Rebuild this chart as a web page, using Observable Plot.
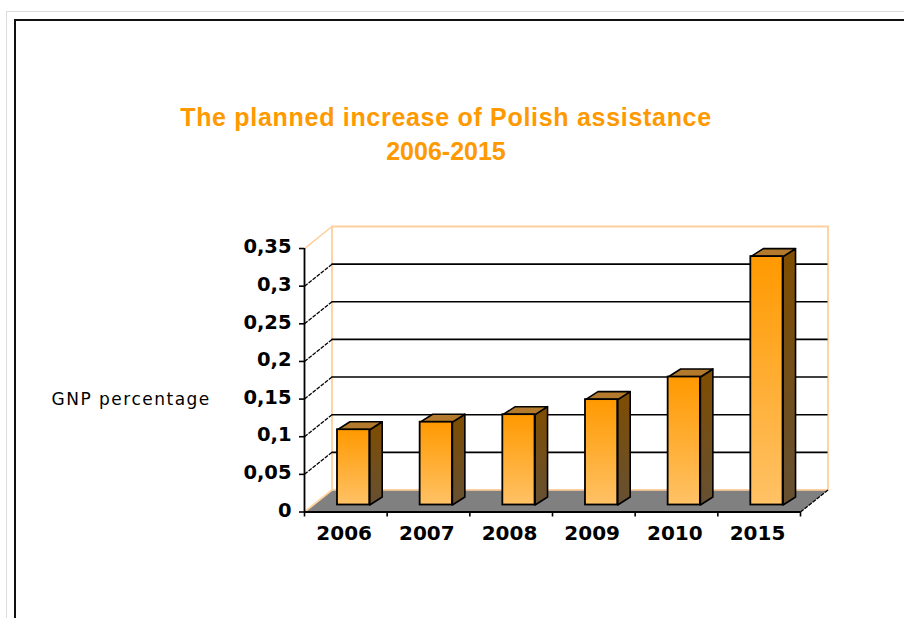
<!DOCTYPE html>
<html>
<head>
<meta charset="utf-8">
<script src="https://cdn.jsdelivr.net/npm/d3@7"></script>
<script src="https://cdn.jsdelivr.net/npm/@observablehq/plot@0.6"></script>
<style>
html,body{margin:0;padding:0;background:#fff;overflow:hidden;width:904px;height:618px}
#outer{position:absolute;left:6px;top:11px;right:-10px;bottom:-10px;border:1px solid #dcdcdc}
#inner{position:absolute;left:14px;top:19px;right:-10px;bottom:-10px;border-top:2px solid #111;border-left:2px solid #111}
#title{position:absolute;left:0;top:100px;width:892px;text-align:center;color:#ff9900;font:bold 25px/34px "Liberation Sans",Arial,sans-serif;letter-spacing:0.7px}
#title span{letter-spacing:0}
#chart{position:absolute;left:0;top:190px}
svg{display:block}
.gnp text{letter-spacing:1.5px}
</style>
</head>
<body>
<div id="outer"></div>
<div id="inner"></div>
<div id="title">The planned increase of Polish assistance<br><span>2006-2015</span></div>
<div id="chart"></div>
<script>
const years = ["2006","2007","2008","2009","2010","2015"];
const gnpShare = [0.10,0.11,0.12,0.14,0.17,0.33];
const yTicks = [0,0.05,0.1,0.15,0.2,0.25,0.3,0.35];
const gridValues = [0.05,0.1,0.15,0.2,0.25,0.3];

// Depth of the pseudo-3D box, in data units of each scale
const wallX = 0.3327, wallY = 0.02926;
const barBaseX = 0.106, barBaseY = 0.0093;
const barLeft = 0.293, barRight = 0.683;
const barDepthX = 0.151, barDepthY = 0.0106;
const catCount = years.length, topValue = 0.35;

const rows = years.map((year,i)=>{
  const v = gnpShare[i];
  const x1 = i+barLeft+barBaseX, x2 = i+barRight+barBaseX;
  return {year,x1,x2,y1:barBaseY,y2:barBaseY+v};
});
const sidePts = rows.flatMap(r=>[
  [r.x2,r.y1],[r.x2,r.y2],[r.x2+barDepthX,r.y2+barDepthY],[r.x2+barDepthX,r.y1+barDepthY],[r.x2,r.y1]
].map(([x,y])=>({x,y,z:r.year})));
const topPts = rows.flatMap(r=>[
  [r.x1,r.y2],[r.x2,r.y2],[r.x2+barDepthX,r.y2+barDepthY],[r.x1+barDepthX,r.y2+barDepthY],[r.x1,r.y2]
].map(([x,y])=>({x,y,z:r.year})));
const floorPts = [[0,0],[catCount,0],[catCount+wallX,wallY],[wallX,wallY],[0,0]].map(([x,y])=>({x,y}));
const wallPts = [[0,0],[wallX,wallY],[catCount+wallX,wallY],[catCount+wallX,topValue+wallY],[wallX,topValue+wallY],[wallX,wallY]].map(([x,y])=>({x,y}));
const wallTopSlant = [[0,topValue],[wallX,topValue+wallY]].map(([x,y])=>({x,y}));
const slants = gridValues.map(v=>({x1:0,y1:v,x2:wallX,y2:v+wallY}));
const floorEdge = {x1:catCount,y1:0,x2:catCount+wallX,y2:wallY};

const PEACH = "#ffcf9f";
const defs = () => {
  const s = d3.create("svg:defs");
  const grad = (id,a,b)=>{
    const g = s.append("linearGradient").attr("id",id).attr("x1",0).attr("x2",0).attr("y1",0).attr("y2",1);
    g.append("stop").attr("offset",0).attr("stop-color",a);
    g.append("stop").attr("offset",1).attr("stop-color",b);
  };
  grad("front","#ff9900","#ffc266");
  grad("side","#7f4d00","#665033");
  return s.node();
};

const chart = Plot.plot({
  width:904, height:390,
  marginLeft:304, marginRight:76.5, marginTop:36, marginBottom:68.5,
  style:{background:"transparent",color:"#000",overflow:"visible"},
  x:{domain:[0,catCount+wallX],axis:null},
  y:{domain:[0,topValue+wallY],axis:null},
  marks:[
    defs,
    Plot.line(floorPts,{x:"x",y:"y",fill:"#808080",stroke:"none"}),
    Plot.line(wallPts,{x:"x",y:"y",stroke:PEACH,strokeWidth:1.8,fill:"none"}),
    Plot.line(wallTopSlant,{x:"x",y:"y",stroke:PEACH,strokeWidth:1.6}),
    Plot.ruleY(gridValues,{y:d=>d+wallY,x1:wallX,x2:catCount+wallX,stroke:"#000",strokeWidth:1.6,strokeOpacity:1}),
    Plot.link(slants,{x1:"x1",y1:"y1",x2:"x2",y2:"y2",stroke:"#000",strokeWidth:1.3,strokeDasharray:"4 1.2",curve:"linear"}),
    Plot.link([floorEdge],{x1:"x1",y1:"y1",x2:"x2",y2:"y2",stroke:"#000",strokeWidth:1.3,strokeDasharray:"4 1.2"}),
    Plot.line(sidePts,{x:"x",y:"y",z:"z",fill:"url(#side)",stroke:"#000",strokeWidth:1.6}),
    Plot.line(topPts,{x:"x",y:"y",z:"z",fill:"#b37a2e",stroke:"#000",strokeWidth:1.6}),
    Plot.rect(rows,{x1:"x1",x2:"x2",y1:"y1",y2:"y2",fill:"url(#front)",stroke:"#000",strokeWidth:1.8}),
    Plot.ruleX([0],{y1:0,y2:topValue,stroke:"#000",strokeWidth:1.8}),
    Plot.ruleY([0],{x1:0,x2:catCount,stroke:"#000",strokeWidth:1.8}),
    Plot.axisY({ticks:yTicks,tickFormat:()=>"",tickSize:5,label:null,strokeWidth:1.6}),
    Plot.axisY({ticks:yTicks,tickFormat:d=>String(d).replace(".",","),tickSize:0,tickPadding:13,label:null,dy:-1.5,
      fontFamily:"DejaVu Sans",fontSize:19.5,fontWeight:"bold"}),
    Plot.axisX({ticks:d3.range(catCount+1),tickFormat:()=>"",tickSize:5,label:null,strokeWidth:1.6}),
    Plot.axisX({ticks:years.map((_,i)=>i+0.48),tickFormat:d=>years[Math.round(d-0.48)],tickSize:0,tickPadding:14,label:null,
      fontFamily:"DejaVu Sans",fontSize:20,fontWeight:"bold"}),
    Plot.text(["GNP percentage"],{frameAnchor:"left",textAnchor:"start",dx:-253,dy:30.5,className:"gnp",
      fontFamily:"DejaVu Sans",fontSize:17,fill:"#000"})
  ]
});
document.getElementById("chart").appendChild(chart);
</script>
</body>
</html>
